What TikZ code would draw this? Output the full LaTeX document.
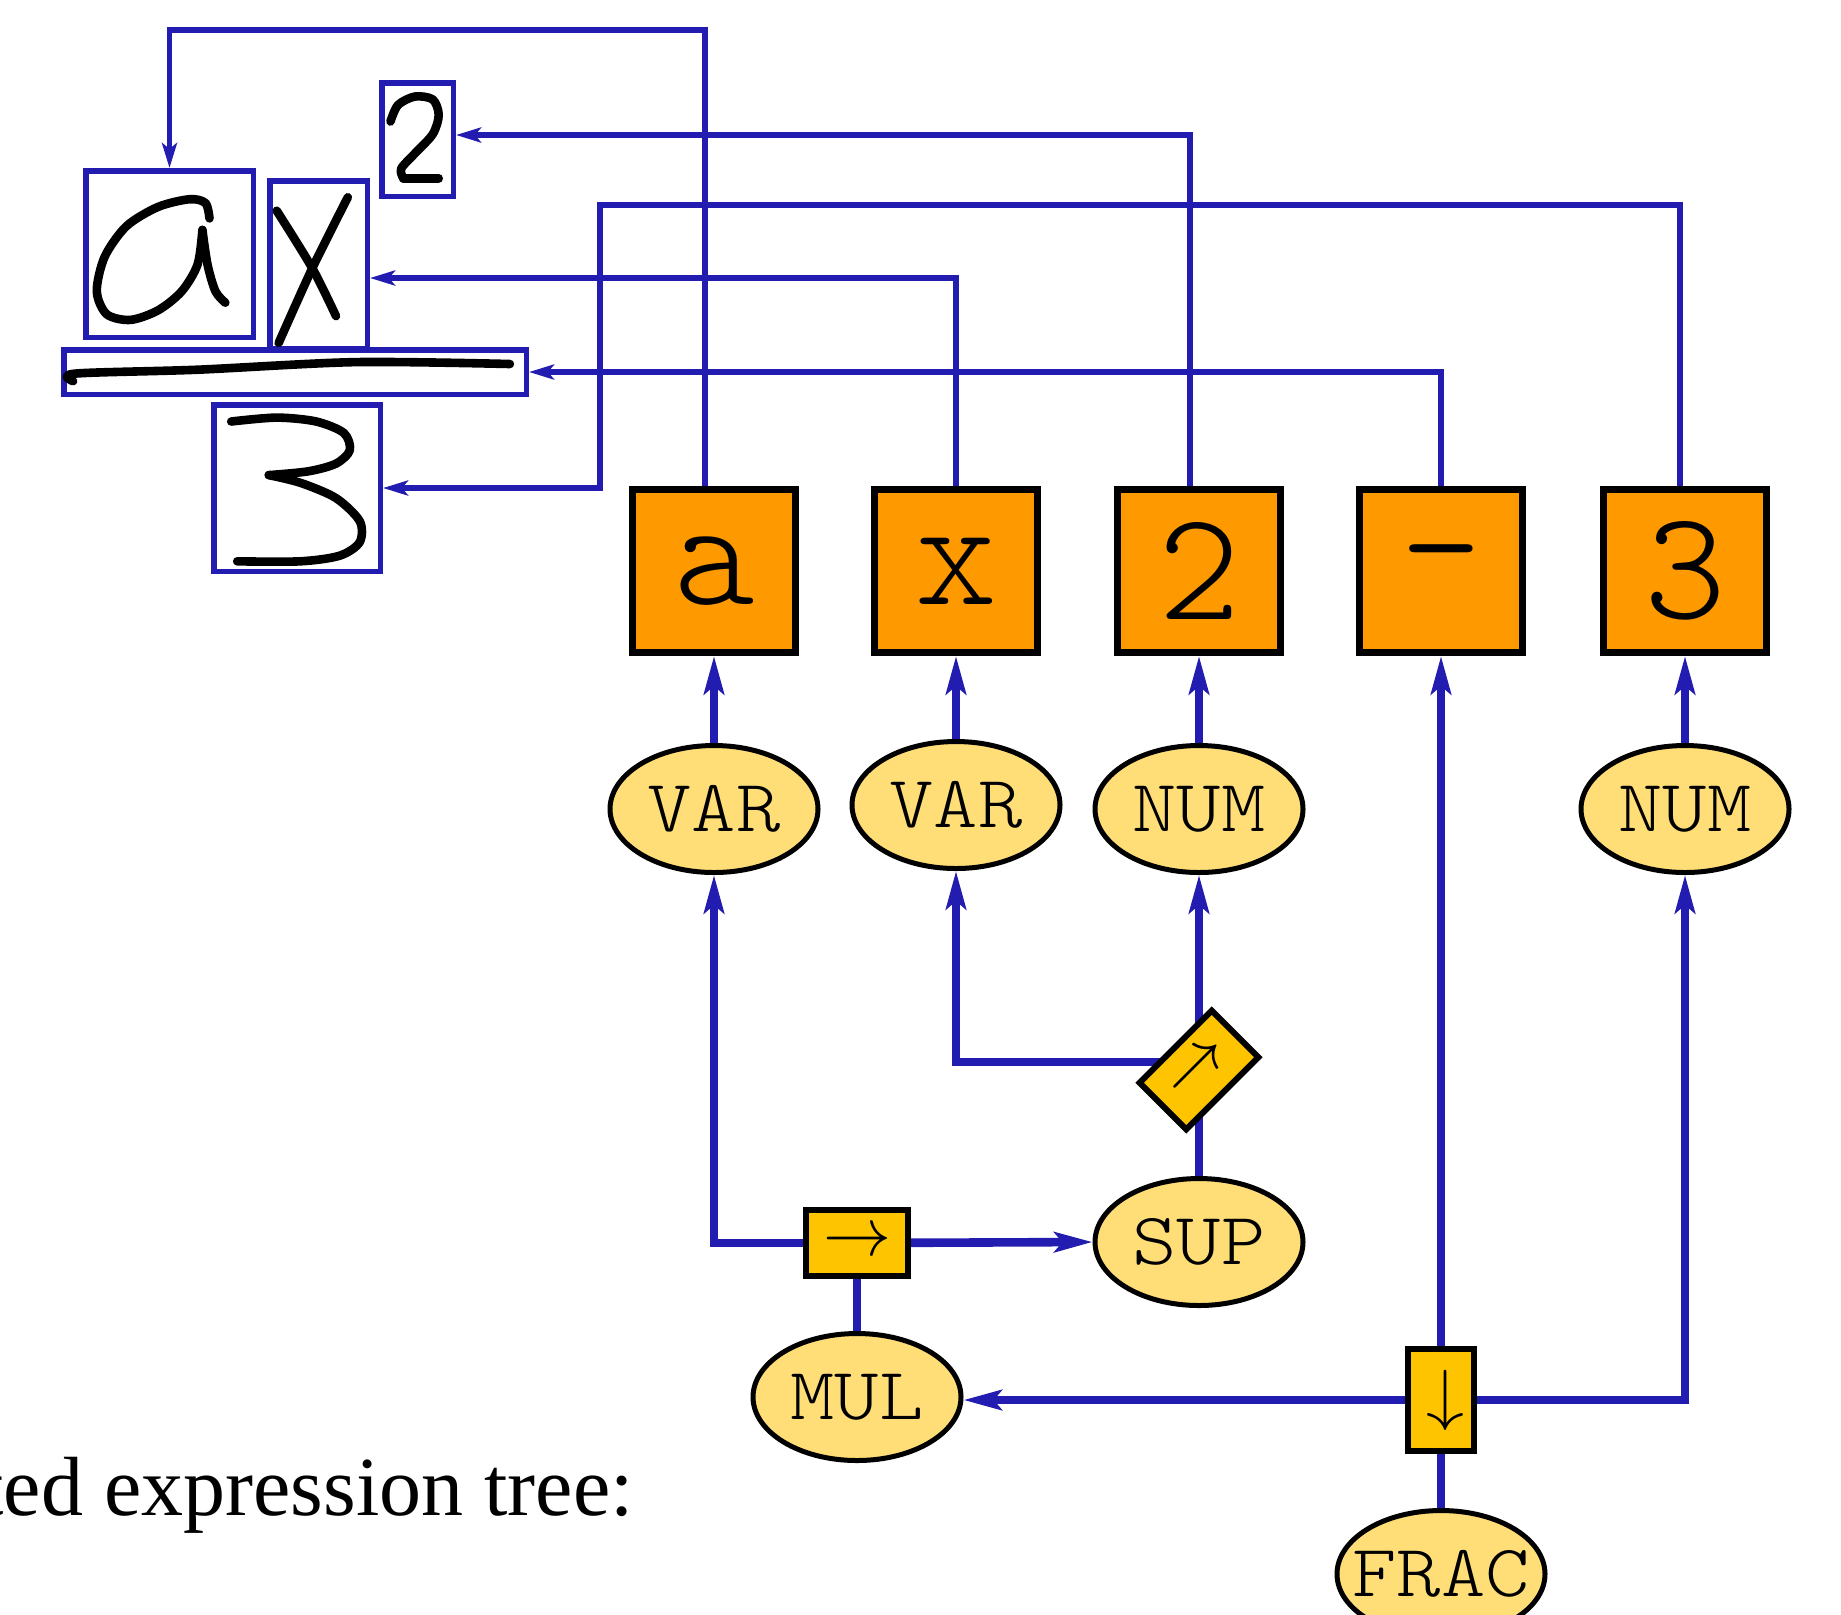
\documentclass[tikz,border=0pt]{standalone}
\usepackage{fontspec}
\newfontfamily\capfont{Liberation Serif}
\newfontfamily\monolight{lmmonolt10-regular.otf}
\usetikzlibrary{arrows.meta,backgrounds,shapes.geometric}
\definecolor{eblue}{RGB}{34,28,176}
\definecolor{borange}{RGB}{255,153,0}
\definecolor{eyellow}{RGB}{255,222,120}
\definecolor{sgold}{RGB}{255,196,0}
\newcommand{\gl}[1]{\makebox[0pt]{\scalebox{1.14}[1]{#1}}}
\tikzset{
  hwbox/.style={draw=eblue, line width=2.75pt, rectangle, inner sep=0pt},
  tokbox/.style={draw=black, fill=borange, line width=3.5pt, minimum size=81.5pt, inner sep=0pt, font=\monolight\fontsize{78}{78}\selectfont},
  gram/.style={ellipse, draw=black, fill=eyellow, line width=2.5pt, minimum width=104pt, minimum height=63.5pt, inner sep=0pt, font=\monolight\fontsize{37}{37}\selectfont},
  relbox/.style={draw=black, fill=sgold, line width=3pt, minimum width=51pt, minimum height=33pt, inner sep=0pt},
  ink/.style={draw=black, line width=4.3pt, line cap=round, line join=round},
  toplink/.style={draw=eblue, line width=2.7pt, -{Stealth[length=12.5pt,width=7.5pt,inset=3pt]}},
  treelink/.style={draw=eblue, line width=4.3pt, -{Stealth[length=19pt,width=10pt,inset=4pt]}},
  treeline/.style={draw=eblue, line width=4.3pt},
}
\begin{document}
\begin{tikzpicture}[x=0.5pt,y=-0.5pt]
\useasboundingbox (0,0) rectangle (1841,1614);
\clip (0,0) rectangle (1841,1614);

% handwritten input boxes
\node[hwbox, minimum width=83.75pt, minimum height=83.25pt] (hwa) at (169.5,254) {};
\node[hwbox, minimum width=48.75pt, minimum height=83.75pt] (hwx) at (318.5,264.5) {};
\node[hwbox, minimum width=35.75pt, minimum height=56.75pt] (hw2) at (417.5,139.5) {};
\node[hwbox, minimum width=231.25pt, minimum height=22.25pt] (hwbar) at (295,372) {};
\node[hwbox, minimum width=83.25pt, minimum height=83.25pt] (hw3) at (297,488) {};

% handwriting strokes
\draw[ink] plot[smooth] coordinates {(209.5,218.4) (205.5,203.1) (189.7,199.2) (158.1,206.9) (126.5,226.1) (104.7,256.7) (96.8,291.2) (106.7,314.2) (130.4,319.9) (158.1,310.3) (181.8,291.2) (197.6,264.4) (202.4,229.9)};
\draw[ink] plot[smooth] coordinates {(202.4,229.9) (207.5,264.4) (215.4,291.2) (225.3,302.7)};
\draw[ink] plot[smooth] coordinates {(276.7,210.7) (312.3,268.2) (336,316.1)};
\draw[ink] plot[smooth] coordinates {(347.8,197.3) (312.3,268.2) (278.7,342.9)};
\draw[ink] plot[smooth] coordinates {(390.5,121.5) (398,105) (415,96.5) (432.8,99.5) (438.7,114.9) (432.8,134.1) (415,153.3) (401.2,168.6) (403.2,178.2)};
\draw[ink] (403.2,178.2) -- (438.7,178.2);
\draw[ink] plot[smooth] coordinates {(231.2,421.5) (276.7,417.6) (316.2,421.5) (343.9,433) (349.8,450.2) (336,463.6) (308.3,471.3) (268.8,475.1)};
\draw[ink] plot[smooth] coordinates {(268.8,475.1) (300.4,482.8) (336,498.1) (359.7,521.1) (359.7,542.1) (339.9,555.6) (300.4,561.3) (237.2,561.3)};
\draw[ink] plot[smooth] coordinates {(73.1,381.2) (75.1,373.6) (197.6,369.7) (355.7,362.1) (509.9,364)};

% token boxes
\node[tokbox] (ta) at (714,571) {a};
\node[tokbox] (tx) at (956,571) {x};
\node[tokbox] (t2) at (1199,571) {2};
\node[tokbox] (tm) at (1441,571) {-};
\node[tokbox] (t3) at (1685,571) {3};

% grammar nodes
\node[gram] (v1) at (714,809) {\gl{VAR}};
\node[gram] (v2) at (956,805) {\gl{VAR}};
\node[gram] (n1) at (1199,809) {\gl{NUM}};
\node[gram] (n2) at (1685,809) {\gl{NUM}};
\node[gram] (sup) at (1199,1242) {\gl{SUP}};
\node[gram] (mul) at (857,1397) {\gl{MUL}};
\node[gram] (frac) at (1441,1574) {\gl{FRAC}};

% relation boxes
\node[relbox, rotate=45] (rsup) at (1199,1070) {\scalebox{3.4}{$\rightarrow$}};
\node[relbox] (rright) at (857,1243) {\scalebox{3.4}{$\rightarrow$}};
\node[relbox, rotate=-90] (rbelow) at (1441,1400) {\scalebox{3.4}{$\rightarrow$}};

% links from tokens to strokes
\draw[toplink] ([xshift=-4.5pt]ta.north) |- (hwa.north |- 0,30) -- (hwa.north);
\draw[toplink] ([xshift=-4.5pt]t2.north) |- (hw2.east |- 0,135);
\draw[toplink] (tx.north) |- (hwx.east |- 0,278);
\draw[toplink] (tm.north) |- (hwbar.east);
\draw[toplink] ([xshift=-2.5pt]t3.north) |- (600,205) |- (hw3.east);

% tree links
\draw[treelink] (v1.north) -- (ta.south);
\draw[treelink] (v2.north) -- (tx.south);
\draw[treelink] (n1.north) -- (t2.south);
\draw[treelink] (n2.north) -- (t3.south);
\begin{pgfonlayer}{background}
\draw[treelink] (rsup.center) -- (n1.south);
\draw[treelink] ([yshift=4pt]rsup.center) -| (v2.south);
\draw[treeline] (sup.north) -- (rsup.center);
\draw[treelink] (rright.center) -| (v1.south);
\draw[treelink] (rright.center) -- (sup.west);
\draw[treeline] (rright.center) -- (mul.north);
\draw[treelink] (rbelow.center) -- (tm.south);
\draw[treelink] (rbelow.center) -- (rbelow.center -| mul.east);
\draw[treelink] (rbelow.center) -| (n2.south);
\draw[treeline] (rbelow.center) -- (frac.north);
\end{pgfonlayer}

% caption
\node[anchor=base east, inner sep=0pt, font=\capfont\fontsize{42}{42}\selectfont] (cap) at (634,1515) {ted expression tree:};
\end{tikzpicture}
\end{document}
